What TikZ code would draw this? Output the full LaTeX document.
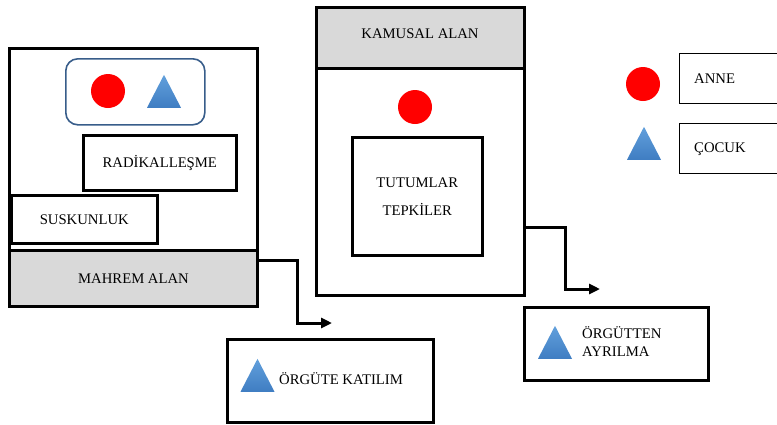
\documentclass[tikz,border=0pt]{standalone}
\usepackage{fontspec}
\setmainfont{Liberation Serif}
\usetikzlibrary{shapes.geometric, arrows.meta, positioning}

\definecolor{annered}{HTML}{FF0000}
\definecolor{cocuktop}{HTML}{62A0DC}
\definecolor{cocukbottom}{HTML}{3F7DC2}
\definecolor{bandgray}{HTML}{D9D9D9}
\definecolor{groupblue}{HTML}{385D8A}

\begin{document}
\begin{tikzpicture}[
	x=1pt, y=-1pt,
	every node/.style={font=\fontsize{14.7}{17}\selectfont},
	frame/.style={rectangle, draw, line width=3pt, anchor=north west, inner sep=0pt},
	band/.style={rectangle, draw, fill=bandgray, line width=3pt, anchor=north west},
	inner/.style={rectangle, draw, line width=2.6pt, anchor=north west, align=center},
	legend/.style={rectangle, draw, line width=1.4pt, anchor=north west, text width=71pt, inner xsep=15pt, align=left},
	group/.style={rectangle, draw=groupblue, line width=1.6pt, rounded corners=12pt, anchor=north west},
	anne/.style={circle, fill=annered, minimum size=34pt, inner sep=0pt},
	cocuk/.style={isosceles triangle, isosceles triangle stretches, shape border rotate=90, minimum width=34pt, minimum height=33pt, inner sep=0pt, anchor=south, top color=cocuktop, bottom color=cocukbottom},
	arrow/.style={line width=3pt, -{Triangle[length=11pt, width=10pt]}}
	]
	\useasboundingbox (0,0) rectangle (777,424);
	
	% Mahrem alan
	\node[frame, minimum width=248pt, minimum height=258pt] (ozel) at (8,47) {};
	\node[band, minimum width=248pt, minimum height=56pt] (mahrem) at (8,249) {MAHREM ALAN};
	\node[group, minimum width=139pt, minimum height=66pt] (cift) at (65,58) {};
	\node[anne] (anne1) at (108,91) {};
	\node[cocuk] (cocuk1) at (164,108) {};
	\node[inner, minimum width=153pt, minimum height=55pt] (radikal) at (82,134) {RADİKALLEŞME};
	\node[inner, minimum width=146pt, minimum height=48pt] (suskun) at (10,194) {SUSKUNLUK};
	
	% Kamusal alan
	\node[frame, minimum width=208pt, minimum height=288pt] (kamu) at (314.5,5.5) {};
	\node[band, minimum width=208pt, minimum height=61pt, text depth=8pt] (kamusal) at (314.5,5.5) {KAMUSAL ALAN};
	\node[anne] (anne2) at (415,107) {};
	\node[inner, minimum width=130pt, minimum height=118pt] (tutum) at (351,136) {TUTUMLAR\\[11pt]TEPKİLER};
	
	% Legend
	\node[anne] (anne3) at (643,84) {};
	\node[legend, minimum height=50pt] (annekutu) at (678.5,53) {ANNE};
	\node[cocuk] (cocuk2) at (644,160) {};
	\node[legend, minimum height=50pt] (cocukkutu) at (678.5,123) {ÇOCUK};
	
	% Results
	\node[inner, minimum width=206pt, minimum height=83pt] (katilim) at (226,338) {};
	\node[cocuk] (cocuk3) at (257.5,392) {};
	\node[anchor=base west, inner sep=0pt] (katilimyazi) at (279,384) {ÖRGÜTE KATILIM};
	\node[inner, minimum width=184pt, minimum height=73pt] (ayrilma) at (523,306) {};
	\node[cocuk] (cocuk4) at (555,359) {};
	\node[anchor=west, inner sep=0pt, align=left, font=\fontsize{14.7}{18}\selectfont] (ayrilmayazi) at (582,342) {ÖRGÜTTEN\\AYRILMA};
	
	% Arrows
	\coordinate (katilimucu) at (332,323);
	\coordinate (ayrilmaucu) at (600,289);
	\draw[arrow] ([yshift=-11pt]mahrem.north east) -- ++(38,0) |- (katilimucu);
	\draw[arrow] ([yshift=-76.5pt]kamu.east) -- ++(39.5,0) |- (ayrilmaucu);
\end{tikzpicture}
\end{document}
